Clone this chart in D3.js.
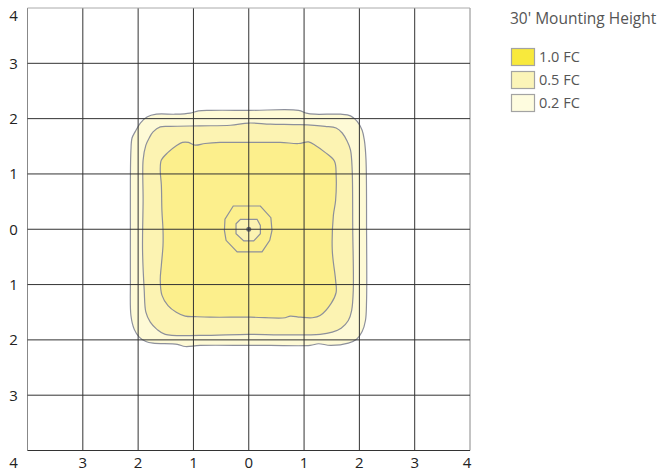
<!DOCTYPE html>
<html>
<head>
<meta charset="utf-8" />
<script src="https://d3js.org/d3.v7.min.js"></script>
<style>
  body { margin: 0; background: #fff; }
  .tick-label { font-family: "Open Sans"; font-size: 15px; fill: #222; }
  .legend text { font-family: "Open Sans"; fill: #555; }
</style>
</head>
<body>
<div id="chart"></div>
<script>
// grid ticks, labels show distance from fixture (abs value)
var xTicks = [-4, -3, -2, -1, 0, 1, 2, 3, 4];
var yTicks = [4, 3, 2, 1, 0, -1, -2, -3];

var levels = ["0.2 FC", "0.5 FC", "1.0 FC"];
var legendOrder = ["1.0 FC", "0.5 FC", "0.2 FC"];
var legendFill = {"1.0 FC": "#f8e93c", "0.5 FC": "#fbf4b8", "0.2 FC": "#fefcdf"};
var areaFill = {"0.2 FC": "#fefad6", "0.5 FC": "#fcf3b2", "1.0 FC": "#fcef8c"};

// isolines, [x, y] in grid units
var contour02 = [[-2.13,1.43],[-2.11,1.65],[-2.05,1.77],[-1.96,1.92],[-1.84,2.03],[-1.67,2.08],[-1.33,2.08],
  [-1.06,2.10],[-0.91,2.14],[-0.70,2.15],[0.03,2.15],[0.90,2.15],[1.04,2.10],[1.20,2.08],[1.66,2.08],
  [1.84,2.05],[1.96,1.95],[2.05,1.79],[2.09,1.61],[2.12,1.25],[2.13,0],[2.13,-1.29],[2.11,-1.65],
  [2.05,-1.85],[1.95,-1.99],[1.80,-2.06],[1.48,-2.10],[1.26,-2.07],[1.11,-2.10],[0.39,-2.10],[0,-2.10],
  [-0.88,-2.10],[-1.15,-2.12],[-1.29,-2.08],[-1.73,-2.06],[-1.86,-2.03],[-1.98,-1.95],[-2.07,-1.81],
  [-2.13,-1.56],[-2.14,-0.92],[-2.14,0],[-2.14,0.89]];
var contour05 = [[-1.91,1.25],[-1.86,1.52],[-1.80,1.65],[-1.73,1.76],[-1.60,1.85],[-1.42,1.86],[-0.88,1.87],
  [-0.33,1.88],[0,1.92],[0.39,1.90],[0.93,1.89],[1.38,1.86],[1.58,1.83],[1.69,1.74],[1.78,1.59],
  [1.84,1.43],[1.87,1.07],[1.88,0],[1.89,-1.10],[1.86,-1.47],[1.80,-1.65],[1.67,-1.79],[1.51,-1.86],
  [1.29,-1.90],[0.57,-1.91],[0,-1.90],[-0.88,-1.92],[-1.51,-1.90],[-1.66,-1.81],[-1.78,-1.68],
  [-1.86,-1.50],[-1.89,-1.10],[-1.92,-0.38],[-1.91,0.52]];
var contour10 = [[-1.58,0.80],[-1.60,1.07],[-1.58,1.25],[-1.46,1.39],[-1.31,1.51],[-1.20,1.57],[-1.09,1.57],
  [-0.97,1.52],[-0.79,1.55],[-0.52,1.57],[0,1.57],[0.57,1.57],[0.90,1.55],[1.08,1.58],[1.20,1.52],
  [1.38,1.39],[1.55,1.23],[1.58,0.98],[1.57,0.52],[1.53,0.25],[1.51,-0.38],[1.57,-0.92],[1.58,-1.14],
  [1.49,-1.34],[1.29,-1.56],[1.15,-1.60],[0.93,-1.59],[0.75,-1.57],[0.66,-1.60],[0.03,-1.59],
  [-0.70,-1.59],[-0.97,-1.58],[-1.15,-1.57],[-1.31,-1.50],[-1.46,-1.38],[-1.57,-1.19],[-1.60,-0.92],
  [-1.58,-0.65],[-1.55,-0.29],[-1.55,-0.02],[-1.57,0.34]];
// rings right under the fixture
var centerOuter = [[-0.28,0.42],[0.21,0.42],[0.40,0.21],[0.42,-0.02],[0.38,-0.20],[0.24,-0.41],
  [-0.21,-0.41],[-0.41,-0.20],[-0.44,-0.02],[-0.43,0.18]];
var centerInner = [[-0.15,0.18],[0.15,0.18],[0.21,0.07],[0.21,-0.08],[0.09,-0.21],[-0.09,-0.21],
  [-0.23,-0.08],[-0.23,0.10]];

var svg = d3.select("#chart").append("svg")
  .attr("width", 666)
  .attr("height", 473);

var x = d3.scaleLinear().domain([-4, 4]).range([27.5, 470]);
var y = d3.scaleLinear().domain([4, -4]).range([8, 450.5]);

var smooth = d3.line()
  .x(function(d) { return x(d[0]); })
  .y(function(d) { return y(d[1]); })
  .curve(d3.curveCatmullRomClosed.alpha(0.5));
var straight = d3.line()
  .x(function(d) { return x(d[0]); })
  .y(function(d) { return y(d[1]); })
  .curve(d3.curveLinearClosed);

var stroke = "#8d909b";
var areas = [contour02, contour05, contour10];
svg.append("g")
  .selectAll("path")
  .data(areas)
  .enter().append("path")
  .attr("d", smooth)
  .attr("fill", function(d, i) { return areaFill[levels[i]]; })
  .attr("stroke", stroke)
  .attr("stroke-width", 1.2);

svg.append("path")
  .attr("d", straight(centerOuter))
  .attr("fill", "none")
  .attr("stroke", stroke)
  .attr("stroke-width", 1.2);
svg.append("path")
  .attr("d", straight(centerInner))
  .attr("fill", areaFill["0.5 FC"])
  .attr("stroke", stroke)
  .attr("stroke-width", 1.2);
svg.append("circle")
  .attr("cx", x(0)).attr("cy", y(0)).attr("r", 2.5)
  .attr("fill", "#6f717a");

// grid
var grid = svg.append("g");
grid.selectAll("line.v")
  .data(xTicks)
  .enter().append("line")
  .attr("x1", function(d) { return x(d); })
  .attr("x2", function(d) { return x(d); })
  .attr("y1", y(4)).attr("y2", y(-4))
  .attr("stroke", function(d) { return Math.abs(d) === 4 ? "#888" : "#333"; })
  .attr("stroke-width", 1);
grid.selectAll("line.h")
  .data(xTicks)
  .enter().append("line")
  .attr("y1", function(d) { return y(d); })
  .attr("y2", function(d) { return y(d); })
  .attr("x1", x(-4)).attr("x2", x(4))
  .attr("stroke", function(d) { return d === 4 ? "#aaa" : "#333"; })
  .attr("stroke-width", 1);

// tick labels
svg.append("g")
  .selectAll("text")
  .data(yTicks)
  .enter().append("text")
  .attr("class", "tick-label")
  .attr("x", 13.5)
  .attr("y", function(d) { return d === 4 ? y(d) + 13 : y(d) + 5.5; })
  .attr("text-anchor", "middle")
  .text(function(d) { return Math.abs(d); });

svg.append("g")
  .selectAll("text")
  .data(xTicks)
  .enter().append("text")
  .attr("class", "tick-label")
  .attr("x", function(d) {
    if (d === -4) return 13.5;
    if (d === 4) return x(d) - 3;
    return x(d);
  })
  .attr("y", 468)
  .attr("text-anchor", "middle")
  .text(function(d) { return Math.abs(d); });

// legend
var legend = svg.append("g").attr("class", "legend");
legend.append("text")
  .attr("x", 510).attr("y", 24)
  .style("font-size", "15.5px")
  .text("30' Mounting Height");
var items = legend.selectAll("g.item")
  .data(legendOrder)
  .enter().append("g")
  .attr("transform", function(d, i) { return "translate(511," + (48 + i * 23) + ")"; });
items.append("rect")
  .attr("x", 0.5).attr("y", 0.5)
  .attr("width", 23).attr("height", 17)
  .attr("fill", function(d) { return legendFill[d]; })
  .attr("stroke", "#a3a3a3")
  .attr("stroke-width", 1.2);
items.append("text")
  .attr("x", 28).attr("y", 14)
  .style("font-size", "14.5px")
  .text(function(d) { return d; });
</script>
</body>
</html>
